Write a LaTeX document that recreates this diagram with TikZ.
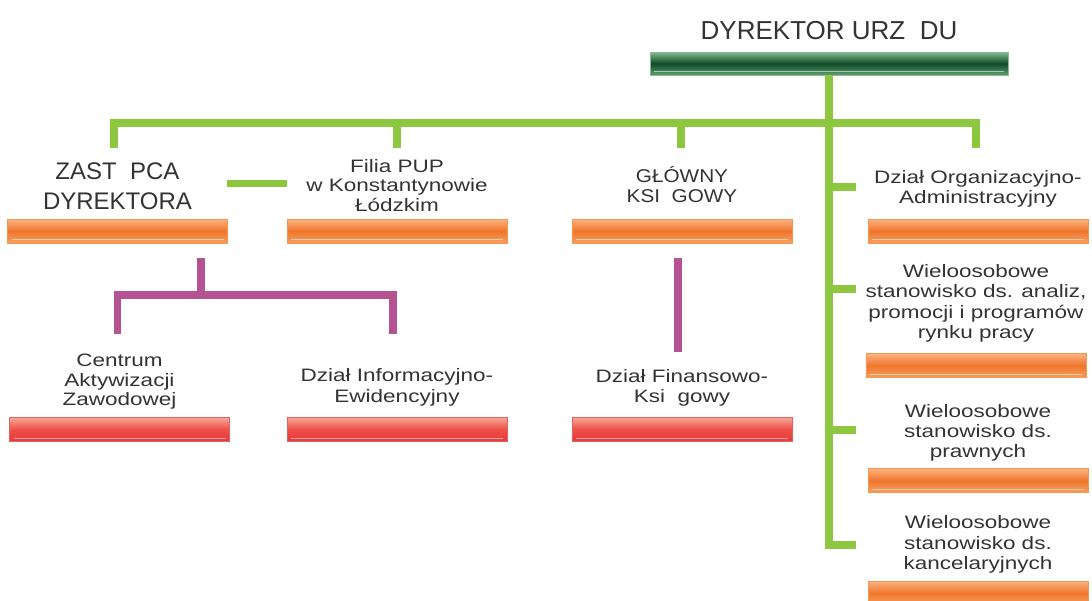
\documentclass[tikz,border=0pt]{standalone}
\usepackage{fontspec}
\setmainfont{Liberation Sans}
\newfontfamily\wideface[FakeStretch=1.25]{Liberation Sans}
\newfontfamily\midface[FakeStretch=1.12]{Liberation Sans}
\usepackage{tikz}
\usetikzlibrary{positioning}
\definecolor{ink}{RGB}{51,51,51}
\definecolor{linkgreen}{RGB}{141,198,63}
\definecolor{linkplum}{RGB}{180,82,146}
\definecolor{ortop}{RGB}{251,180,130}
\definecolor{ormid}{RGB}{240,118,44}
\definecolor{orbot}{RGB}{245,160,96}
\definecolor{ortrim}{RGB}{246,150,80}
\definecolor{rdtop}{RGB}{246,166,150}
\definecolor{rdmid}{RGB}{238,78,70}
\definecolor{rdbot}{RGB}{232,56,58}
\definecolor{rdtrim}{RGB}{226,100,96}
\definecolor{gntop}{RGB}{134,188,148}
\definecolor{gnmid}{RGB}{14,74,38}
\definecolor{gnbot}{RGB}{96,158,112}

\begin{document}
\begin{tikzpicture}[x=1pt, y=-1pt,
      bar/.style={rectangle, minimum width=220pt, minimum height=24pt, inner sep=0pt, outer sep=0pt,
        path picture={\draw[white, opacity=.55, line width=.7pt]
          ([xshift=4pt, yshift=3.5pt]path picture bounding box.south west) --
          ([xshift=-4pt, yshift=3.5pt]path picture bounding box.south east);}},
      obar/.style={bar, draw=ortrim, top color=ortop, bottom color=orbot, middle color=ormid},
      rbar/.style={bar, draw=rdtrim, top color=rdtop, bottom color=rdbot, middle color=rdmid},
      txt/.style={align=center, inner sep=0pt, outer sep=0pt, text=ink,
        font=\wideface\fontsize{18}{20}\selectfont, execute at end node=\strut},
      head/.style={txt, font=\fontsize{24}{30}\selectfont},
      gline/.style={draw=linkgreen, line width=7.5pt},
      pline/.style={draw=linkplum, line width=7.5pt}
    ]
      \useasboundingbox (0,0) rectangle (1092,600);

      \node[bar, minimum width=358pt, minimum height=23pt, draw=gntop,
        top color=gntop, bottom color=gnbot, middle color=gnmid] (dirbar) at (829,63.5) {};
      \node[txt, font=\fontsize{26}{31}\selectfont, above=3.5pt of dirbar] (dir) {DYREKTOR URZ~~DU};

      \node[obar] (zastbar) at (117.5,231) {};
      \node[obar] (filiabar) at (397,231) {};
      \node[obar] (ksiegbar) at (682,231) {};
      \node[obar] (orgbar) at (978,231) {};
      \node[obar] (analbar) at (976,365.5) {};
      \node[obar] (prawbar) at (978,480.5) {};
      \node[obar] (kancbar) at (978,593) {};
      \node[rbar] (centbar) at (119.5,429.5) {};
      \node[rbar] (infbar) at (397,429.5) {};
      \node[rbar] (finbar) at (682,429.5) {};

      \node[head, above=1pt of zastbar] (zast) {ZAST~~PCA\\DYREKTORA};
      \node[txt, font=\wideface\fontsize{18}{19.5}\selectfont, above=2pt of filiabar] (filia) {Filia PUP\\w Konstantynowie\\Łódzkim};
      \node[txt, font=\midface\fontsize{18.5}{20.5}\selectfont, above=10pt of ksiegbar] (ksieg) {GŁÓWNY\\KSI~~GOWY};
      \node[txt, above=10pt of orgbar] (org) {Dział Organizacyjno-\\Administracyjny};
      \node[txt, font=\wideface\fontsize{18}{20.3}\selectfont, above=9pt of analbar] (anal) {Wieloosobowe\\stanowisko ds. analiz,\\promocji i programów\\rynku pracy};
      \node[txt, above=5pt of prawbar] (praw) {Wieloosobowe\\stanowisko ds.\\prawnych};
      \node[txt, font=\wideface\fontsize{18}{20.5}\selectfont, above=5pt of kancbar] (kanc) {Wieloosobowe\\stanowisko ds.\\kancelaryjnych};
      \node[txt, font=\wideface\fontsize{18}{19.5}\selectfont, above=6pt of centbar] (cent) {Centrum\\Aktywizacji\\Zawodowej};
      \node[txt, font=\wideface\fontsize{18}{21}\selectfont, above=9pt of infbar] (inf) {Dział Informacyjno-\\Ewidencyjny};
      \node[txt, above=9pt of finbar] (fin) {Dział Finansowo-\\Ksi~~gowy};

      \coordinate (bus) at (0,123);
      \coordinate (dz) at (114,148);
      \coordinate (df) at (397,148);
      \coordinate (dg) at (681,148);
      \coordinate (do) at (976,148);
      \coordinate (t1) at (856,187);
      \coordinate (t2) at (856,289);
      \coordinate (t3) at (856,430);
      \coordinate (t4) at (856,545);
      \coordinate (s1) at (227,183.5);
      \coordinate (s2) at (287,183.5);

      \draw[gline] (dz) -- (dz |- bus) -- (do |- bus) -- (do);
      \draw[gline] (df) -- (df |- bus);
      \draw[gline] (dg) -- (dg |- bus);
      \draw[gline] (dirbar.south) |- (t4);
      \draw[gline] (dirbar.south |- t1) -- (t1);
      \draw[gline] (dirbar.south |- t2) -- (t2);
      \draw[gline] (dirbar.south |- t3) -- (t3);
      \draw[gline] (s1) -- (s2);

      \coordinate (pbus) at (0,295);
      \coordinate (pz) at (201,258);
      \coordinate (pc) at (117.5,334);
      \coordinate (pi) at (393,334);
      \coordinate (pf) at (678,258);
      \coordinate (pk) at (678,352);

      \draw[pline] (pz) -- (pz |- pbus);
      \draw[pline] (pc) -- (pc |- pbus) -- (pi |- pbus) -- (pi);
      \draw[pline] (pf) -- (pk);
    \end{tikzpicture}
\end{document}
